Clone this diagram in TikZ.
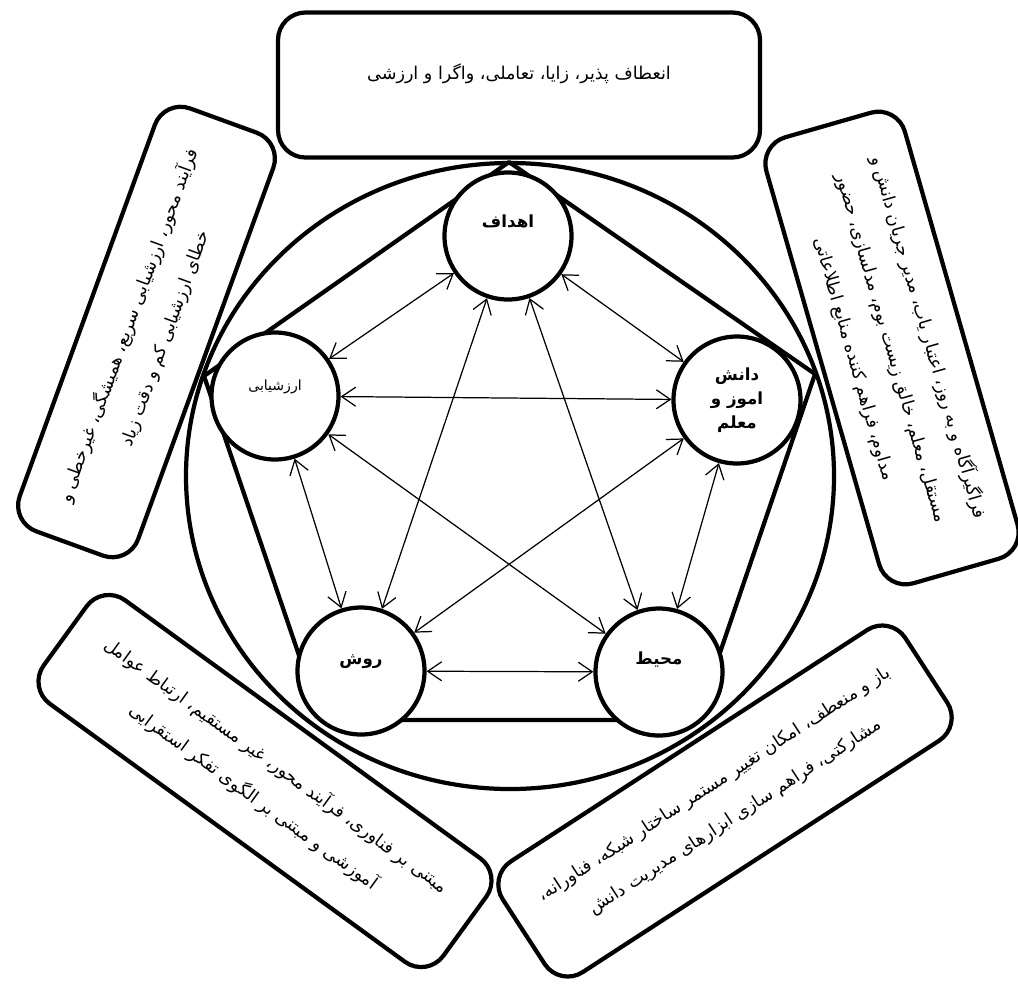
\documentclass[tikz,border=0pt]{standalone}
\usepackage{fontspec}
\newfontfamily\farsi[Script=Arabic]{DejaVu Sans}
\TeXXeTstate=1
\usetikzlibrary{arrows.meta}

\newcommand{\fa}[1]{\beginR #1\endR}

\begin{document}
\begin{tikzpicture}[
  idea/.style={circle, draw, fill=white, line width=2.4pt, minimum size=2.54cm, inner sep=0pt, align=center, font=\farsi\bfseries\fontsize{9.5}{13.5}\selectfont},
  trait/.style={rectangle, draw, rounded corners=0.55cm, line width=2.4pt, align=center, inner sep=0pt, font=\farsi\fontsize{10}{22}\selectfont},
  frame/.style={line width=2.4pt},
  link/.style={{Straight Barb[length=2.8mm,width=3.8mm]}-{Straight Barb[length=2.8mm,width=3.8mm]}, line width=0.7pt}
]
\useasboundingbox (0,0) rectangle (20.36,-19.76);
\begin{scope}[shift={(10.18,-9.5)}]
% outer ring and pentagon
\draw[frame] (0.02,-0.02) ellipse (6.48 and 6.26);
\draw[frame, line join=round] (0,6.26) -- (6.12,2.02) -- (3.76,-4.9) -- (-3.76,-4.9) -- (-6.1,1.98) -- cycle;

% the five parts
\node[idea, text depth=0.6cm] (goal) at (-0.02,4.78) {\fa{اهداف}};
\node[idea] (learner) at (4.56,1.5) {\fa{دانش}\\\fa{اموز و}\\\fa{معلم}};
\node[idea, text depth=0.55cm] (setting) at (3.0,-3.94) {\fa{محیط}};
\node[idea, text depth=0.45cm] (method) at (-2.96,-3.92) {\fa{روش}};
\node[idea, text depth=0.45cm, font=\farsi\fontsize{8}{10}\selectfont] (assess) at (-4.68,1.58) {\fa{ارزشیابی}};

% every part is tied to every other
\foreach \a/\b in {goal/learner, learner/setting, setting/method, method/assess, assess/goal,
                   goal/setting, goal/method, learner/method, learner/assess, setting/assess}
  \draw[link] (\a) -- (\b);

% features of each part
\node[trait, minimum width=9.64cm, minimum height=2.9cm, text depth=0.55cm] (tgoal) at (0.2,7.8)
  {\fa{انعطاف پذیر، زایا، تعاملی، واگرا و ارزشی}};
\node[trait, minimum width=9.28cm, minimum height=2.88cm, rotate=-74] (tlearner) at (7.66,2.54)
  {\fa{فراگیرآگاه و به روز، اعتبار یاب، مدیر جریان دانش و}\\
   \fa{مستقل، معلم، خالق زیست بوم، مدلسازی، حضور}\\
   \fa{مداوم، فراهم کننده منابع اطلاعاتی}};
\node[trait, minimum width=9.6cm, minimum height=2.64cm, rotate=33] (tsetting) at (4.32,-6.52)
  {\fa{باز و منعطف، امکان تغییر مستمر ساختار شبکه، فناورانه،}\\
   \fa{مشارکتی، فراهم سازی ابزارهای مدیریت دانش}};
\node[trait, minimum width=9.88cm, minimum height=2.56cm, rotate=-36] (tmethod) at (-4.88,-6.12)
  {\fa{مبتنی بر فناوری، فرآیند محور، غیر مستقیم، ارتباط عوامل}\\
   \fa{آموزشی و مبتنی بر الگوی تفکر استقرایی}};
\node[trait, minimum width=9.0cm, minimum height=2.52cm, rotate=70] (tassess) at (-7.25,2.86)
  {\fa{فرآیند محور، ارزشیابی سریع، همیشگی، غیرخطی و}\\
   \fa{خطای ارزشیابی کم و دقت زیاد}};
\end{scope}
\end{tikzpicture}
\end{document}
